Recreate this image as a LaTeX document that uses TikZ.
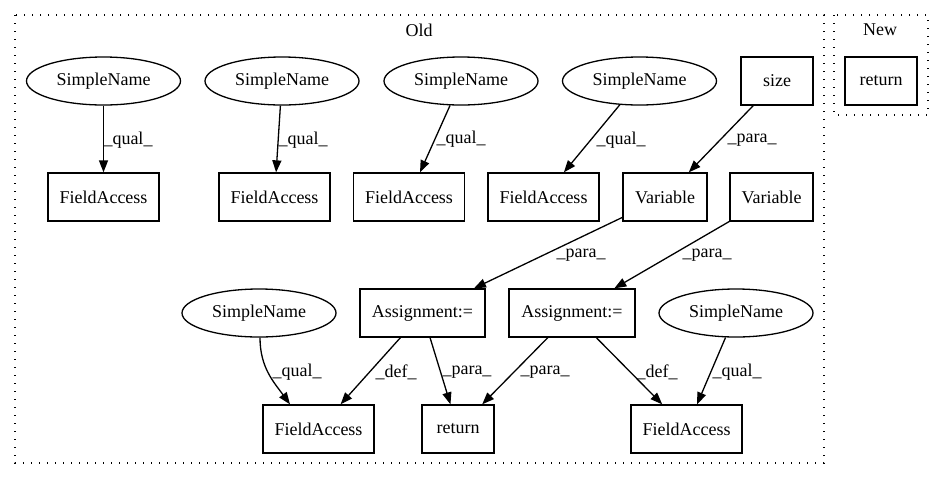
\documentclass[tikz,border=0pt]{standalone}
\usepackage{fontspec}
\setmainfont{Liberation Serif}
\usetikzlibrary{arrows.meta,shapes.geometric}

\begin{document}
\begin{tikzpicture}[x=1pt,y=-1pt,
  txt/.style={font=\fontsize{18pt}{21pt}\selectfont},
  box/.style={txt,draw,line width=1.3pt,rectangle,inner sep=0pt,minimum height=48pt},
  oval/.style={txt,draw,line width=1.3pt,ellipse,inner sep=0pt,minimum width=154pt,minimum height=48pt},
  lbl/.style={txt,inner sep=0pt},
  edge/.style={line width=1.3pt,-{Triangle[length=12pt,width=9pt]}},
  cluster/.style={line width=1.3pt,dash pattern=on 1.4pt off 6.6pt}
]
\useasboundingbox (0,0) rectangle (944,480);

% clusters
\draw[cluster] (15,15) rectangle (824,463);
\node[lbl] (oldlbl) at (419,30) {Old};
\draw[cluster] (834,15) rectangle (928,115);
\node[lbl] (newlbl) at (880,30) {New};

% New
\node[box,minimum width=72pt] (nret) at (881,81) {return};

% top row
\node[oval] (sn1) at (103.5,81) {SimpleName};
\node[oval] (sn2) at (282,81) {SimpleName};
\node[oval] (sn3) at (461,81) {SimpleName};
\node[oval] (sn4) at (639.5,81) {SimpleName};
\node[box,minimum width=72pt] (size) at (777,81) {size};

% second row
\node[box,minimum width=111pt] (fa1) at (103.5,197) {FieldAccess};
\node[box,minimum width=111pt] (fa2) at (274.5,197) {FieldAccess};
\node[box,minimum width=111pt] (fa3) at (409,197) {FieldAccess};
\node[box,minimum width=111pt] (fa4) at (543.5,197) {FieldAccess};
\node[box,minimum width=84pt] (var1) at (665,197) {Variable};
\node[box,minimum width=83pt] (var2) at (771.5,197) {Variable};

% third row
\node[oval] (sn5) at (259,313) {SimpleName};
\node[box,minimum width=125pt] (as1) at (422.5,313) {Assignment:=};
\node[box,minimum width=126pt] (as2) at (572,313) {Assignment:=};
\node[oval] (sn6) at (736,313) {SimpleName};

% bottom row
\node[box,minimum width=111pt] (fa5) at (318.5,429) {FieldAccess};
\node[box,minimum width=72pt] (ret) at (458,429) {return};
\node[box,minimum width=111pt] (fa6) at (686.5,429) {FieldAccess};

% connectors
\draw[edge] (sn1) -- (fa1);
\draw[edge] (sn2) -- (fa2);
\draw[edge] (sn3) -- (fa3);
\draw[edge] (sn4) -- (fa4);
\draw[edge] (size) -- (var1);
\draw[edge] (var1) -- (as1);
\draw[edge] (var2) -- (as2);
\draw[edge] ([xshift=1pt]sn5.south) .. controls +(0,30) and +(-16,-22) .. ([xshift=-28.5pt]fa5.north);
\draw[edge] (as1) -- (fa5);
\draw[edge] (as1) -- (ret);
\draw[edge] (as2) -- (ret);
\draw[edge] (as2) -- (fa6);
\draw[edge] (sn6) -- ([xshift=10.5pt]fa6.north);

% connector labels
\node[lbl] (l1) at (128,140) {\_qual\_};
\node[lbl] (l2) at (303,140) {\_qual\_};
\node[lbl] (l3) at (461,139) {\_qual\_};
\node[lbl] (l4) at (621,140) {\_qual\_};
\node[lbl] (l5) at (752,140) {\_para\_};
\node[lbl] (l6) at (581,255) {\_para\_};
\node[lbl] (l7) at (707,255) {\_para\_};
\node[lbl] (l8) at (297,372) {\_qual\_};
\node[lbl] (l9) at (396,372) {\_def\_};
\node[lbl] (l10) at (467,372) {\_para\_};
\node[lbl] (l11) at (545,372) {\_para\_};
\node[lbl] (l12) at (657,372) {\_def\_};
\node[lbl] (l13) at (737,372) {\_qual\_};
\end{tikzpicture}
\end{document}
